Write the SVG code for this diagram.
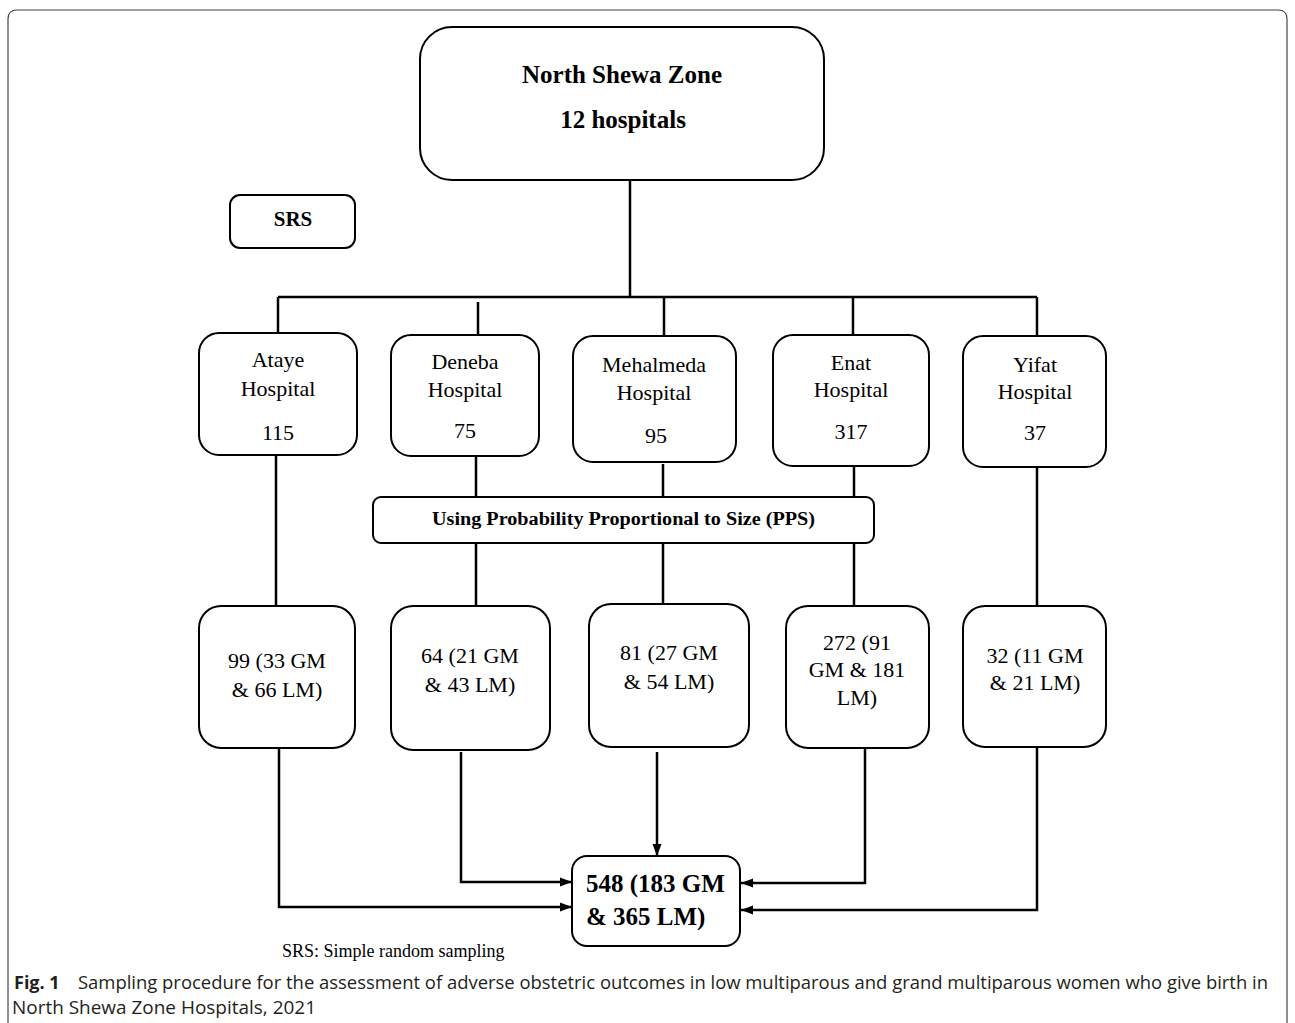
<svg xmlns="http://www.w3.org/2000/svg" width="1295" height="1023" viewBox="0 0 1295 1023">
<defs>
<style>
.box{fill:#fff;stroke:#000;stroke-width:2}
.t{font-family:"Liberation Serif","Times New Roman",serif;font-size:22px;fill:#000;text-anchor:middle}
.b{font-family:"Liberation Serif","Times New Roman",serif;font-weight:bold;fill:#000}
.ln{fill:none;stroke:#000;stroke-width:2.5}
.cap{font-family:"Open Sans","Noto Sans",sans-serif;font-size:18px;fill:#231f20}
</style>
<marker id="ah" viewBox="0 0 12 10" refX="12" refY="5" markerWidth="12" markerHeight="10" markerUnits="userSpaceOnUse" orient="auto">
<path d="M0,0.5 L12,5 L0,9.5 Z" fill="#000"/>
</marker>
</defs>
<rect width="1295" height="1023" fill="#fff"/>
<path d="M8,1023 V19 Q8,10 17,10 H1278 Q1287,10 1287,19 V1023" fill="none" stroke="#444" stroke-width="1.2"/>

<g id="connectors">
<path class="ln" d="M630,180 V297"/>
<path class="ln" d="M278,297 H1037" stroke-width="3.5"/>
<path class="ln" d="M278,297 V332"/>
<path class="ln" d="M478,302 V335"/>
<path class="ln" d="M664,297 V336"/>
<path class="ln" d="M853,297 V335"/>
<path class="ln" d="M1037,297 V336"/>
<path class="ln" d="M276,455 V606"/>
<path class="ln" d="M476,456 V497 M476,543 V606"/>
<path class="ln" d="M663,464 V497 M663,543 V604"/>
<path class="ln" d="M854,466 V497 M854,543 V606"/>
<path class="ln" d="M1037,467 V606"/>
<path class="ln" d="M279,748 V907 H572" marker-end="url(#ah)"/>
<path class="ln" d="M461,752 V882 H572" marker-end="url(#ah)"/>
<path class="ln" d="M657,752 V856" marker-end="url(#ah)"/>
<path class="ln" d="M865,748 V883 H741" marker-end="url(#ah)"/>
<path class="ln" d="M1037,747 V910 H741" marker-end="url(#ah)"/>
</g>

<g id="north-shewa">
<rect class="box" x="420" y="27" width="404" height="153" rx="32"/>
<text class="b" x="622" y="83" font-size="25" text-anchor="middle">North Shewa Zone</text>
<text class="b" x="623" y="128" font-size="25" text-anchor="middle">12 hospitals</text>
</g>

<g id="srs">
<rect class="box" x="230" y="195" width="125" height="53" rx="10"/>
<text class="b" x="293" y="226" font-size="21" text-anchor="middle">SRS</text>
</g>

<g id="ataye">
<rect class="box" x="199" y="333" width="158" height="122" rx="20"/>
<text class="t" x="278" y="367">Ataye</text>
<text class="t" x="278" y="396">Hospital</text>
<text class="t" x="278" y="440">115</text>
</g>
<g id="deneba">
<rect class="box" x="391" y="335" width="148" height="121" rx="20"/>
<text class="t" x="465" y="369">Deneba</text>
<text class="t" x="465" y="397">Hospital</text>
<text class="t" x="465" y="438">75</text>
</g>
<g id="mehalmeda">
<rect class="box" x="573" y="336" width="163" height="126" rx="20"/>
<text class="t" x="654" y="372">Mehalmeda</text>
<text class="t" x="654" y="400">Hospital</text>
<text class="t" x="656" y="443">95</text>
</g>
<g id="enat">
<rect class="box" x="773" y="335" width="156" height="131" rx="20"/>
<text class="t" x="851" y="370">Enat</text>
<text class="t" x="851" y="397">Hospital</text>
<text class="t" x="851" y="439">317</text>
</g>
<g id="yifat">
<rect class="box" x="963" y="336" width="143" height="131" rx="20"/>
<text class="t" x="1035" y="372">Yifat</text>
<text class="t" x="1035" y="399">Hospital</text>
<text class="t" x="1035" y="440">37</text>
</g>

<g id="pps">
<rect class="box" x="373" y="497" width="501" height="46" rx="8"/>
<text class="b" x="432" y="525" font-size="18" textLength="383" lengthAdjust="spacingAndGlyphs">Using Probability Proportional to Size (PPS)</text>
</g>

<g id="s-ataye">
<rect class="box" x="199" y="606" width="156" height="142" rx="22"/>
<text class="t" x="277" y="668">99 (33 GM</text>
<text class="t" x="277" y="697">&amp; 66 LM)</text>
</g>
<g id="s-deneba">
<rect class="box" x="391" y="606" width="159" height="144" rx="22"/>
<text class="t" x="470" y="663">64 (21 GM</text>
<text class="t" x="470" y="692">&amp; 43 LM)</text>
</g>
<g id="s-mehalmeda">
<rect class="box" x="589" y="604" width="160" height="143" rx="22"/>
<text class="t" x="669" y="660">81 (27 GM</text>
<text class="t" x="669" y="689">&amp; 54 LM)</text>
</g>
<g id="s-enat">
<rect class="box" x="786" y="606" width="143" height="142" rx="22"/>
<text class="t" x="857" y="650">272 (91</text>
<text class="t" x="857" y="677">GM &amp; 181</text>
<text class="t" x="857" y="705">LM)</text>
</g>
<g id="s-yifat">
<rect class="box" x="963" y="606" width="143" height="141" rx="22"/>
<text class="t" x="1035" y="663">32 (11 GM</text>
<text class="t" x="1035" y="690">&amp; 21 LM)</text>
</g>

<g id="total">
<rect class="box" x="572" y="856" width="168" height="90" rx="15"/>
<text class="b" x="586" y="892" font-size="25">548 (183 GM</text>
<text class="b" x="586" y="925" font-size="25">&amp; 365 LM)</text>
</g>

<text class="t" x="282" y="957" style="font-size:18px;text-anchor:start">SRS: Simple random sampling</text>

<g id="caption">
<text class="cap" x="14" y="989" font-weight="bold">Fig. 1</text>
<text class="cap" x="78" y="989" textLength="1190" lengthAdjust="spacingAndGlyphs">Sampling procedure for the assessment of adverse obstetric outcomes in low multiparous and grand multiparous women who give birth in</text>
<text class="cap" x="12" y="1014" textLength="304" lengthAdjust="spacingAndGlyphs">North Shewa Zone Hospitals, 2021</text>
</g>
</svg>
